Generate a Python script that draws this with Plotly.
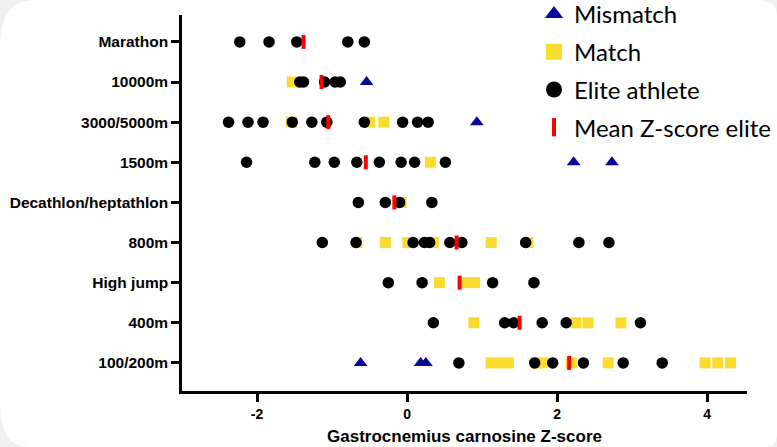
import plotly.graph_objects as go

# ---- data ----
categories = ["Marathon", "10000m", "3000/5000m", "1500m", "Decathlon/heptathlon",
              "800m", "High jump", "400m", "100/200m"]

elite_event = (["Marathon"] * 5 + ["10000m"] * 5 + ["3000/5000m"] * 10 + ["1500m"] * 8 +
               ["Decathlon/heptathlon"] * 4 + ["800m"] * 10 + ["High jump"] * 4 +
               ["400m"] * 6 + ["100/200m"] * 6)
elite_z = [-2.23, -1.84, -1.47, -0.79, -0.57,
           -1.43, -1.38, -1.10, -0.96, -0.89,
           -2.38, -2.12, -1.92, -1.53, -1.27, -1.07, -0.57, -0.06, 0.14, 0.28,
           -2.14, -1.23, -0.97, -0.67, -0.37, -0.08, 0.10, 0.51,
           -0.65, -0.29, -0.10, 0.33,
           -1.13, -0.68, 0.08, 0.23, 0.30, 0.57, 0.73, 1.58, 2.29, 2.69,
           -0.25, 0.20, 1.14, 1.69,
           0.35, 1.30, 1.42, 1.80, 2.12, 3.11,
           0.69, 1.70, 1.94, 2.35, 2.88, 3.40]

match_event = (["10000m"] + ["3000/5000m"] * 3 + ["1500m"] + ["Decathlon/heptathlon"] +
               ["800m"] * 6 + ["High jump"] * 3 + ["400m"] * 4 + ["100/200m"] * 10)
match_z = [-1.53,
           -1.54, -0.50, -0.31,
           0.31,
           -0.08,
           -0.67, -0.29, 0.01, 0.35, 1.12, 1.61,
           0.43, 0.79, 0.90,
           0.89, 2.25, 2.41, 2.85,
           1.12, 1.24, 1.35, 1.72, 1.80, 2.19, 2.68, 3.97, 4.14, 4.31]

mismatch_event = ["10000m", "3000/5000m", "1500m", "1500m", "100/200m", "100/200m", "100/200m"]
mismatch_z = [-0.54, 0.93, 2.22, 2.73, -0.62, 0.18, 0.25]

mean_elite_z = [-1.38, -1.14, -1.05, -0.55, -0.17, 0.66, 0.70, 1.50, 2.16]

x_ticks = [-2, 0, 2, 4]

# ---- styling ----
BLUE = "#0a0a9a"
YELLOW = "#fbdc2e"
RED = "#ff0000"
BG = "#f0f0f0"

L, R, T, B = 182, 30, 15, 56
W, H = 777, 447
PW, PH = W - L - R, H - T - B


def px(xp, yp):
    return f"{(xp - L) / PW:.4f},{(H - B - yp) / PH:.4f}"


card = ("M " + px(35, 0) + " L " + px(758, 0) + " Q " + px(777, 0) + " " + px(777, 17) +
        " L " + px(777, 433) + " Q " + px(777, 447) + " " + px(765, 447) +
        " L " + px(28, 447) + " Q " + px(0, 447) + " " + px(0, 402) +
        " L " + px(0, 47) + " Q " + px(0, 0) + " " + px(35, 0) + " Z")

fig = go.Figure()

fig.add_trace(go.Scatter(x=match_z, y=match_event, mode="markers", showlegend=False,
                         marker=dict(symbol="square", size=11, color=YELLOW)))
fig.add_trace(go.Scatter(x=mismatch_z, y=mismatch_event, mode="markers", showlegend=False,
                         marker=dict(symbol="triangle-up", size=12, color=BLUE)))
fig.add_trace(go.Scatter(x=elite_z, y=elite_event, mode="markers", showlegend=False,
                         marker=dict(symbol="circle", size=11.5, color="black")))
fig.add_trace(go.Scatter(x=mean_elite_z, y=categories, mode="markers", showlegend=False,
                         marker=dict(symbol="line-ns", size=10, color=RED,
                                     line=dict(color=RED, width=4))))

# legend entries
legend_items = [("Mismatch", dict(symbol="triangle-up", size=16, color=BLUE)),
                ("Match", dict(symbol="square", size=16, color=YELLOW)),
                ("Elite athlete", dict(symbol="circle", size=16, color="black")),
                ("Mean Z-score elite", dict(symbol="line-ns", size=13, color=RED,
                                            line=dict(color=RED, width=4)))]
for i, (name, mk) in enumerate(legend_items):
    fig.add_trace(go.Scatter(x=[None], y=[None], mode="markers", name=name,
                             legendgroup=f"g{i}", marker=mk))

fig.update_layout(
    width=W, height=H,
    margin=dict(l=L, r=R, t=T, b=B, pad=0, autoexpand=False),
    paper_bgcolor=BG,
    plot_bgcolor="rgba(0,0,0,0)",
    shapes=[dict(type="path", path=card, xref="paper", yref="paper",
                 fillcolor="white", line=dict(width=0), layer="below")],
    showlegend=True,
    legend=dict(x=(534 - L) / PW, xanchor="left", y=1 + 23 / PH, yanchor="top",
                bgcolor="rgba(0,0,0,0)", tracegroupgap=3.5,
                font=dict(family="Lato", size=24, color="black")),
    xaxis=dict(range=[-3, 4.53], tickvals=x_ticks, ticktext=[str(v) for v in x_ticks],
               automargin=False,
               showgrid=False, zeroline=False, showline=True, linecolor="black", linewidth=2.5,
               ticks="outside", ticklen=8, tickwidth=3, tickcolor="black",
               tickfont=dict(family="Liberation Sans", size=14, color="black", weight="bold"),
               title=dict(text="Gastrocnemius carnosine Z-score", standoff=10,
                          font=dict(family="Liberation Sans", size=17, color="black", weight="bold"))),
    yaxis=dict(type="category", categoryorder="array", categoryarray=categories[::-1],
               automargin=False,
               range=[-0.7, 8.67], showgrid=False, zeroline=False, showline=True,
               linecolor="black", linewidth=2.5, ticks="outside", ticklen=8, tickwidth=2.5,
               tickcolor="black",
               tickfont=dict(family="Liberation Sans", size=15.5, color="black", weight="bold")),
)

fig.write_html("out.html")
